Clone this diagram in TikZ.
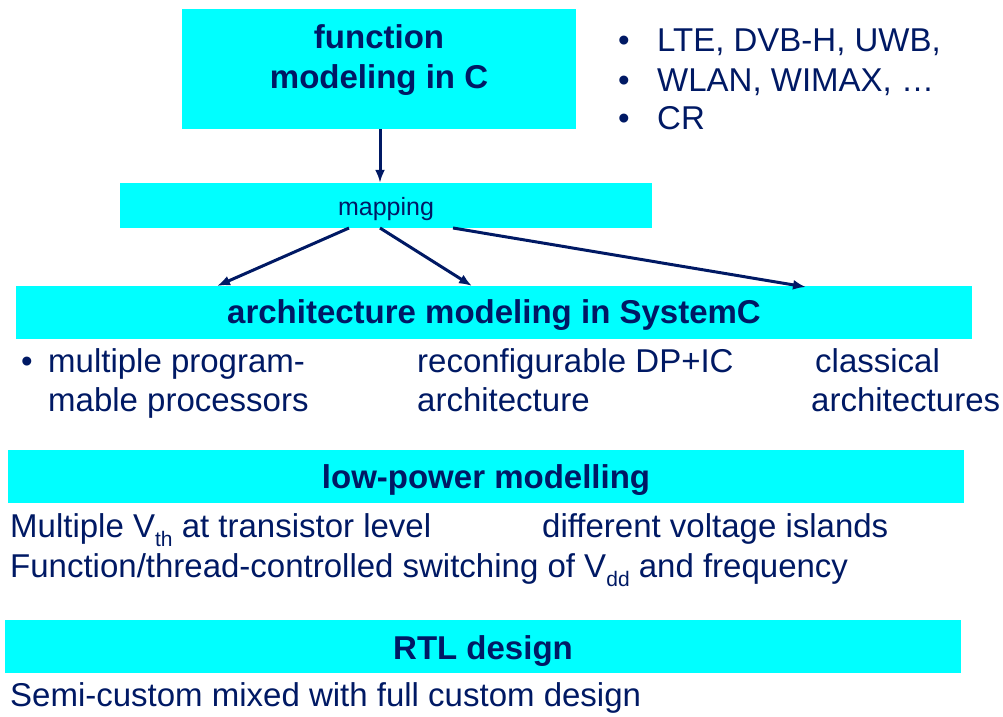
\documentclass[tikz,border=0pt]{standalone}
\usepackage{fontspec}
\setmainfont{Liberation Sans}
\usetikzlibrary{arrows.meta}
\definecolor{navy}{RGB}{0,25,100}
\definecolor{boxcyan}{RGB}{0,255,255}
\newcommand{\subtxt}[1]{\raisebox{-9pt}{\fontsize{21}{21}\selectfont #1}}
\tikzset{
  band/.style={rectangle, fill=boxcyan, draw=none, inner sep=0pt},
  big/.style={text=navy, inner sep=0pt, font=\fontsize{33}{40}\selectfont},
  head/.style={text=navy, inner sep=0pt, font=\fontsize{33}{40}\selectfont\bfseries},
  small/.style={text=navy, inner sep=0pt, font=\fontsize{25}{30}\selectfont},
  arr/.style={draw=navy, line width=3pt, -{Latex[length=13pt,width=10pt]}},
}
\begin{document}
\begin{tikzpicture}[x=1pt, y=-1pt]
\useasboundingbox (0,0) rectangle (1003,716);

% coloured bands
\node[band, minimum width=394pt, minimum height=120pt] (func) at (379,69) {};
\node[band, minimum width=532pt, minimum height=45pt] (map) at (386,205.5) {};
\node[band, minimum width=956pt, minimum height=53pt] (arch) at (494,312.5) {};
\node[band, minimum width=956pt, minimum height=53pt] (lowp) at (486,476.5) {};
\node[band, minimum width=956pt, minimum height=53pt] (rtl) at (483,646.5) {};

% band titles
\node[head, anchor=base] (funcA) at (379,48) {function};
\node[head, anchor=base] (funcB) at (379,88) {modeling in C};
\node[small, anchor=base] (mapT) at (386,215) {mapping};
\node[head, anchor=base] (archT) at (494,323) {architecture modeling in SystemC};
\node[head, anchor=base] (lowpT) at (486,488) {low-power modelling};
\node[head, anchor=base] (rtlT) at (483,659) {RTL design};

% application list
\node[big, anchor=base] (b1) at (624,51) {\textbullet};
\node[big, anchor=base] (b2) at (624,91) {\textbullet};
\node[big, anchor=base] (b3) at (624,129) {\textbullet};
\node[big, anchor=base west] (l1) at (657,51) {LTE, DVB-H, UWB,};
\node[big, anchor=base west] (l2) at (657,91) {WLAN, WIMAX, …};
\node[big, anchor=base west] (l3) at (657,129) {CR};

% architecture variants
\node[big, anchor=base] (ab) at (27,372) {\textbullet};
\node[big, anchor=base west] (a1) at (48,372) {multiple program-};
\node[big, anchor=base west] (a2) at (48,411) {mable processors};
\node[big, anchor=base west] (a3) at (417,372) {reconfigurable DP+IC};
\node[big, anchor=base west] (a4) at (417,411) {architecture};
\node[big, anchor=base west] (a5) at (815,372) {classical};
\node[big, anchor=base west] (a6) at (811,411) {architectures};

% low-power techniques
\node[big, anchor=base west] (p1) at (10,537) {Multiple V\subtxt{th} at transistor level};
\node[big, anchor=base west] (p2) at (542,537) {different voltage islands};
\node[big, anchor=base west] (p3) at (10,577) {Function/thread-controlled switching of V\subtxt{dd} and frequency};

% RTL
\node[big, anchor=base west] (r1) at (10,706) {Semi-custom mixed with full custom design};

% connectors
\coordinate (m1) at (349,228);
\coordinate (m2) at (380,228);
\coordinate (m3) at (453,228);
\coordinate (t1) at (217,286);
\coordinate (t2) at (472,286);
\coordinate (t3) at (806,287);
\draw[arr] (func.south -| m2) -- (m2 |- map.north);
\draw[arr] (m1) -- (t1);
\draw[arr] (m2) -- (t2);
\draw[arr] (m3) -- (t3);
\end{tikzpicture}
\end{document}
